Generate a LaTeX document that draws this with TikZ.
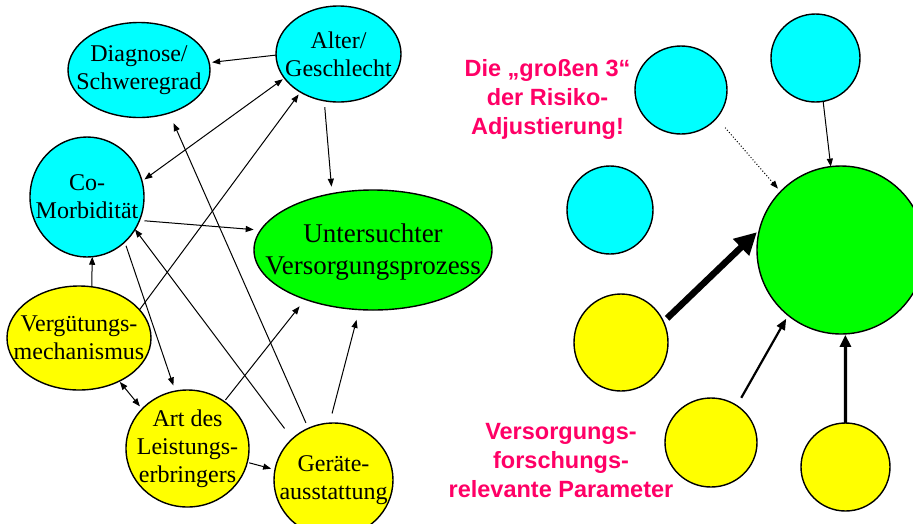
\documentclass[tikz,border=0pt]{standalone}
\usepackage{fontspec}
\setmainfont{Liberation Serif}
\newfontfamily\arialf{Liberation Sans}
\usetikzlibrary{shapes.geometric,arrows.meta}
\definecolor{cyn}{RGB}{0,255,255}
\definecolor{grn}{RGB}{0,255,0}
\definecolor{ylw}{RGB}{255,255,0}
\definecolor{pinkred}{RGB}{255,0,102}
\begin{document}
\begin{tikzpicture}[x=1pt,y=-1pt,
  blob/.style={ellipse, draw=black, line width=1.4pt, inner sep=0pt, outer sep=0pt},
  cy/.style={blob, fill=cyn},
  gr/.style={blob, fill=grn},
  yl/.style={blob, fill=ylw},
  lbl/.style={font=\fontsize{24}{28}\selectfont, align=center, inner sep=0pt},
  lblbig/.style={font=\fontsize{27}{32}\selectfont, align=center, inner sep=0pt},
  conn/.style={line width=1pt, -{Triangle[length=8pt,width=6pt]}},
  dconn/.style={line width=1pt, {Triangle[length=8pt,width=6pt]}-{Triangle[length=8pt,width=6pt]}},
  redtxt/.style={font=\arialf\bfseries\fontsize{23.5}{29}\selectfont, text=pinkred, align=center, inner sep=0pt}
]
\useasboundingbox (0,0) rectangle (913,523);
\fill[white] (0,0) rectangle (913,523);
\clip (0,0) rectangle (913,523);

% ---- left diagram ----
\node[cy, minimum width=142pt, minimum height=95pt, label={[lbl]center:{Diagnose/\\Schweregrad}}] (diag) at (139,70) {};
\node[cy, minimum width=125pt, minimum height=96pt, label={[lbl]center:{Alter/\\Geschlecht}}] (alter) at (338.5,54) {};
\node[cy, minimum width=114pt, minimum height=120pt, label={[lbl]center:{Co-\\Morbidität}}] (como) at (87,197) {};
\node[gr, minimum width=238pt, minimum height=120pt, label={[lblbig, yshift=-2pt]center:{Untersuchter\\Versorgungsprozess}}] (unters) at (373,250) {};
\node[yl, minimum width=144pt, minimum height=104pt, label={[lbl]center:{Vergütungs-\\mechanismus}}] (verg) at (79,338) {};
\node[yl, minimum width=123pt, minimum height=117pt, label={[lbl]center:{Art des\\Leistungs-\\erbringers}}] (art) at (187.5,448.5) {};
\node[yl, minimum width=119pt, minimum height=114pt, label={[lbl]center:{Geräte-\\ausstattung}}] (ger) at (333.5,480) {};

\draw[conn, shorten >=3pt] (alter.181) -- (diag.6);
\draw[dconn, shorten <=3pt, shorten >=2pt] (como.16) -- (alter.204);
\draw[conn, shorten >=3pt] (verg.25) -- (alter.225);
\draw[conn, shorten <=6.5pt, shorten >=7pt] (alter.253) -- (unters.126);
\draw[conn, shorten <=5pt, shorten >=7pt] (como.-24.5) -- (unters.170.5);
\draw[conn] (verg.76) -- (como.-85);
\draw[conn, shorten <=4pt, shorten >=6pt] (como.-50) -- (art.102);
\draw[conn, shorten <=13pt] (ger.135) -- (como.-34.5);
\draw[conn, shorten <=6pt, shorten >=11pt] (ger.116.6) -- (diag.-55.3);
\draw[dconn, shorten <=1pt, shorten >=3.5pt] (verg.-47) -- (art.139.4);
\draw[conn, shorten <=2pt, shorten >=9pt] (art.52.3) -- (unters.216.6);
\draw[conn, shorten <=2pt, shorten >=4pt] (art.-13.3) -- (ger.170.9);
\draw[conn, shorten <=10pt, shorten >=10.6pt] (ger.94.7) -- (unters.257.9);

% ---- right diagram ----
\node[cy, minimum width=92pt, minimum height=88pt] (c1) at (681,90) {};
\node[cy, minimum width=89pt, minimum height=88pt] (c2) at (815.5,58) {};
\node[cy, minimum width=86pt, minimum height=88pt] (c3) at (610,210) {};
\node[gr, minimum width=168pt, minimum height=168pt] (gbig) at (841,250) {};
\node[yl, minimum width=94pt, minimum height=97pt] (y1) at (621,342.5) {};
\node[yl, minimum width=92pt, minimum height=89pt] (y2) at (711,442.5) {};
\node[yl, minimum width=89pt, minimum height=88pt] (y3) at (845.5,467) {};

\draw[conn, dotted, shorten <=13pt, shorten >=4pt] (c1.-38) -- (gbig.136);
\draw[conn] (c2.-80) -- (gbig.97.5);
\draw[line width=6.5pt, -{Triangle[length=22pt,width=22pt]}, shorten <=5pt, shorten >=3.6pt] (y1.26.6) -- (gbig.166);
\draw[line width=2.2pt, -{Triangle[length=11pt,width=9pt]}, shorten <=9pt, shorten >=4pt] (y2.55) -- (gbig.231.4);
\draw[line width=3.2pt, -{Triangle[length=12pt,width=11pt]}, shorten >=1pt] (y3.90) -- (gbig.-87.3);

\node[redtxt] (t1) at (547.5,99) {Die „großen 3“\\der Risiko-\\Adjustierung!};
\node[redtxt] (t2) at (561,461) {Versorgungs-\\forschungs-\\relevante Parameter};
\end{tikzpicture}
\end{document}
